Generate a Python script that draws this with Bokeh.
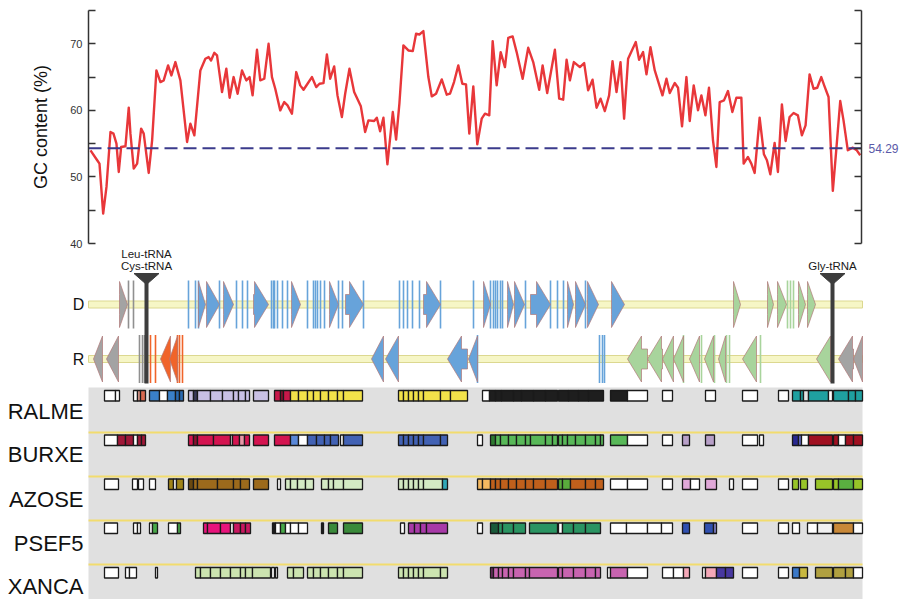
from bokeh.plotting import figure
from bokeh.layouts import column
from bokeh.models import Range1d, LinearAxis, FixedTicker, ColumnDataSource
from bokeh.embed import file_html
from bokeh.resources import INLINE
from bokeh.core.properties import value

# ---------------- data ----------------
genome_len = 774          # genomic positions (arbitrary units, 0 .. 774)
gc_mean = 54.29

gc_pos = [2, 8.7, 11, 14.7, 18, 22, 25, 28, 30.3, 32.7, 37, 40.3, 42, 45.3, 48.7, 52.7, 55.3, 60.3, 63.7, 68,
          72, 75.3, 79.7, 83, 87, 92, 98.7, 102, 106, 112, 117, 120.3, 122.7, 126, 128.7, 133.7, 138, 141.3, 145.3,
          149.3, 153.7, 158, 161.3, 164.3, 168.7, 172, 176, 180.3, 183.7, 187, 192, 196, 199.3, 203.7, 208, 212,
          215.3, 219.3, 223.7, 228, 231.3, 235.3, 238.7, 242, 246, 249.3, 253.7, 257, 261.3, 266, 272.7, 277,
          280.3, 286, 288.7, 292, 295.3, 299.3, 304.7, 308, 311.3, 315.3, 320.3, 324.7, 328, 331.3, 335.3, 340.3,
          343.7, 348, 353.7, 358.7, 362, 366, 370.3, 374.3, 378, 381.3, 385.3, 389.3, 393.7, 397, 401.3, 404.7,
          408.7, 412.7, 417, 420.3, 424.7, 428.7, 434.7, 440.3, 445.3, 451.3, 454.7, 459.3, 467, 471.3, 475.3,
          478.7, 482, 486, 492, 496.3, 500.3, 504.7, 508.7, 512.7, 517, 521.3, 524.7, 528.7, 532.7, 536.3, 540.3,
          548, 551.3, 555.3, 558.7, 562.7, 567, 574.7, 578.7, 582, 587, 590.3, 594.3, 598.7, 602, 606, 610.3,
          613.7, 617.7, 621.3, 625.3, 628.7, 632, 636.3, 640.3, 644.7, 648.7, 653.7, 656, 660.3, 663.7, 667, 672,
          676.3, 679.3, 682.7, 687, 690.3, 694.3, 698, 702, 706, 710.3, 714.3, 718, 722, 726, 729.7, 733.7, 737,
          741, 745.3, 748.7, 752.7, 756, 760.3, 765.3, 769.3, 772.7]
gc_val = [54, 52.5, 52, 44.5, 48.5, 56.75, 56.5, 55, 50.75, 54.5, 54.6, 60.4, 56.5, 51.25, 52, 57.25, 56.5, 50.6,
          55.5, 66, 64.25, 64.5, 66.75, 65.25, 67.25, 64.5, 55.25, 58, 56.25, 66, 67.75, 68, 67.5, 68.65, 68.25,
          62.75, 66.25, 61.9, 65, 62.5, 66, 64.5, 65, 62.25, 69.1, 64.5, 64.75, 70, 65, 63.25, 60, 61.25, 60.75,
          59.5, 65.75, 63.75, 63.1, 64, 65, 63.5, 64, 64.1, 68.4, 64.75, 66.6, 62.25, 59, 62.5, 66.25, 62.75,
          60.6, 56.75, 58.5, 58.4, 58.9, 56.85, 58.9, 51.9, 59.75, 55.6, 61, 69.75, 69, 68.9, 71.5, 71.4, 71.9,
          65, 62.1, 62.5, 64.65, 62.35, 62.5, 64.25, 66.75, 64, 63.9, 56.5, 63.6, 54.9, 58.75, 59.5, 59.25, 70.4,
          63.75, 68.75, 66.5, 70.9, 71.1, 68.75, 64.75, 69.4, 67.25, 63.1, 66.75, 62.6, 69.1, 61.75, 61.6, 67.6,
          64.5, 67.25, 66.5, 67.1, 63, 64.6, 60.4, 61.75, 59.9, 62.25, 67.4, 62.75, 67.25, 58.75, 67.75, 70.25,
          67.6, 68.75, 65.4, 69.5, 66, 62.25, 64.75, 62.6, 64.1, 63.4, 57.6, 65, 58.4, 63.75, 60, 62.25, 59.25,
          63.4, 55.5, 51.5, 61.25, 61.5, 62.9, 59.75, 61.9, 61.9, 52, 53, 52, 50.6, 58.9, 53.4, 52.5, 50.4, 55.1,
          50.75, 60.9, 55.4, 59, 59.6, 59.25, 56.25, 57.75, 65.4, 63.25, 63.4, 65, 63.6, 62, 47.9, 54, 61.4, 58.5,
          54, 54.4, 54, 53.25]
gc_ticks = [40, 50, 60, 70]
gc_minor_ticks = [45, 55, 65, 75]
gc_side_ticks = [40, 45, 50, 55, 60, 65, 70, 75]

# genes on the direct (D) strand: (start, end)
d_arrows_gray = [(31, 39)]
d_arrows_blue = [(110, 117), (118, 131), (135, 145), (165, 180), (203, 212), (241, 250), (257, 275), (335, 352),
                 (395, 402), (419, 425), (426, 436), (442, 462), (479, 485), (487, 497), (499, 510), (523, 536)]
d_arrows_green = [(645, 652), (679, 685), (689, 698), (710, 717), (719, 727)]
d_lines_gray = [40, 45]
d_lines_blue = [100, 107, 110, 131, 148, 154, 159, 183, 185, 186, 189, 194, 199, 219, 225, 227, 229, 232, 236,
                250, 254, 275, 311, 315, 319, 324, 331, 352, 385, 402, 405, 407, 409, 412, 414, 437, 462, 469,
                475, 497]
d_lines_green = [699, 702, 705]

# genes on the reverse (R) strand: (start, end)
r_arrows_gray = [(5, 14), (18, 30), (750, 765), (765, 774)]
r_arrows_orange = [(72, 82), (81, 89)]
r_arrows_blue = [(283, 295), (297, 310), (359, 379), (380, 389)]
r_arrows_green = [(539, 559), (559, 574), (574, 585), (585, 595), (601, 611), (616, 625), (630, 637),
                  (654, 668), (728, 742)]
r_lines_gray = [51, 54, 56]
r_lines_orange = [62, 67, 89, 91, 94]
r_lines_blue = [389, 511, 514, 516]
r_lines_green = [595, 613, 626, 638, 641, 672]

trna_pos = [58, 744]
trna_label_pos = [58, 58, 744]
trna_label_text = ["Leu-tRNA", "Cys-tRNA", "Gly-tRNA"]
trna_label_line = [0, 1, 1]

strand_names = ["D", "R"]

# ortholog blocks per genome: (start, end, group)
ralme = [(16, 27, "W"), (27, 31, "W"), (45, 49, "W"), (49, 52, "SA"), (52, 57, "RD"),
         (61, 71, "B"), (71, 79, "W"), (79, 87, "B"), (87, 91, "B2"), (91, 95, "B2"),
         (100, 105, "LV"), (105, 109, "DK"), (109, 122, "LV"), (122, 134, "LV"), (134, 145, "LV"), (145, 150, "LV"),
         (150, 157, "LV"), (157, 161, "LV"), (165, 180, "LV"),
         (186, 192, "C"), (192, 195, "C2"), (195, 202, "C"), (202, 210, "Y"), (210, 219, "Y"), (219, 225, "Y"),
         (225, 232, "Y"), (232, 240, "Y"), (240, 249, "Y"), (249, 255, "Y"), (255, 274, "Y"),
         (310, 315, "Y"), (315, 320, "Y"), (320, 325, "Y"), (325, 330, "Y"), (330, 335, "Y"), (335, 352, "Y"),
         (352, 362, "Y"), (362, 379, "Y"),
         (394, 401, "W"), (401, 407, "K"), (407, 413, "K"), (413, 425, "K"), (425, 433, "K"), (433, 445, "K"),
         (445, 457, "K"), (457, 469, "K"), (470, 480, "K"), (480, 490, "K"), (490, 500, "K"), (500, 515, "K"),
         (522, 539, "K"), (539, 559, "W"), (574, 584, "W"), (617, 627, "W"), (654, 669, "W"), (690, 700, "W"),
         (704, 712, "T"), (712, 715, "T"), (715, 720, "LT"), (720, 740, "T"), (740, 744, "W"),
         (745, 760, "T"), (760, 767, "T"), (767, 774, "T")]
burxe = [(16, 29, "W"), (29, 37, "DR"), (37, 45, "DR"), (45, 49, "W"), (49, 53, "DR"), (53, 57, "DR"),
         (100, 105, "MC"), (105, 109, "C2"), (109, 125, "MC"), (125, 142, "MC"), (142, 144, "W"), (144, 151, "MC"),
         (151, 156, "PK1"), (156, 161, "MC"), (165, 180, "MC"),
         (186, 202, "MC"), (202, 210, "BL2"), (210, 219, "W"), (219, 228, "BL"), (228, 236, "BL"), (236, 242, "BL"),
         (242, 250, "BL"), (252, 255, "W"), (255, 274, "BL"),
         (310, 315, "BL"), (315, 320, "BL"), (320, 325, "BL"), (325, 330, "BL"), (330, 335, "BL"), (335, 352, "BL"),
         (352, 359, "BL"), (389, 394, "W"),
         (402, 407, "DG"), (407, 412, "G"), (412, 420, "G"), (420, 428, "G"), (428, 437, "G"), (437, 442, "G"),
         (442, 457, "G"), (457, 464, "G"), (464, 469, "G"), (470, 474, "G"), (474, 479, "G"), (479, 487, "G"),
         (487, 497, "G"), (497, 507, "G"), (507, 512, "G"), (512, 515, "G"), (522, 539, "G"), (539, 559, "W"),
         (574, 584, "W"), (594, 601, "M"), (617, 626, "M"), (654, 669, "W"), (671, 675, "W"),
         (704, 710, "NV"), (710, 713, "NV3"), (713, 720, "W"), (720, 744, "DR2"),
         (745, 750, "DR2"), (750, 757, "W"), (757, 765, "DR2"), (765, 774, "DR2")]
azose = [(16, 30, "W"), (44, 49, "W"), (50, 55, "W"), (61, 67, "W"), (80, 85, "OL"), (85, 88, "W"), (88, 95, "OL"),
         (100, 105, "BR2"), (105, 109, "BR"), (109, 129, "BR"), (129, 145, "BR"), (145, 152, "BR"), (152, 161, "BR"),
         (165, 180, "BR"), (189, 192, "W"),
         (197, 202, "LG"), (202, 209, "LG"), (209, 217, "LG"), (217, 225, "LG"),
         (233, 240, "LG"), (240, 245, "LG"), (245, 255, "LG"), (255, 274, "LG"),
         (310, 315, "LG"), (315, 320, "LG"), (320, 325, "LG"), (325, 330, "LG"), (330, 335, "LG"), (335, 354, "LG"),
         (354, 359, "TE"), (389, 394, "LO"), (394, 402, "LO"),
         (402, 407, "OR"), (407, 412, "OR"), (412, 420, "OR"), (420, 428, "OR"), (428, 437, "OR"), (437, 445, "OR"),
         (445, 457, "OR"), (457, 469, "OR"), (470, 474, "GR"), (474, 482, "GR"), (482, 497, "OR"), (497, 507, "OR"),
         (507, 515, "OR"), (522, 539, "W"), (539, 559, "W"), (574, 584, "W"), (594, 602, "PK"), (602, 611, "W"),
         (617, 628, "PK"), (641, 645, "W"), (654, 669, "W"), (690, 700, "W"), (704, 710, "LM"), (712, 719, "LM"),
         (727, 744, "LM"), (745, 750, "LM"), (750, 765, "LM2"), (765, 774, "LM")]
psef5 = [(16, 29, "W"), (45, 49, "W"), (49, 52, "W"), (61, 64, "W"), (64, 69, "PG"), (80, 89, "W"), (89, 92, "PG"),
         (115, 119, "MG"), (119, 132, "MG"), (132, 142, "MG"), (142, 145, "W"), (145, 152, "MG2"), (152, 157, "MG2"),
         (157, 162, "MG2"),
         (184, 187, "K"), (187, 192, "W"), (192, 197, "PG"), (197, 202, "W"), (202, 210, "W"), (210, 219, "W"),
         (233, 235, "K"), (240, 249, "DG2"), (255, 274, "DG2"), (312, 316, "W"),
         (320, 326, "PU"), (326, 332, "PU"), (332, 338, "PU"), (338, 359, "PU"), (389, 394, "W"),
         (402, 410, "GTD"), (410, 414, "GT"), (414, 425, "GT"), (425, 437, "GT"), (441, 469, "GT"), (470, 474, "W"),
         (474, 485, "GT"), (485, 497, "GT"), (497, 512, "GT"),
         (522, 538, "W"), (538, 559, "W"), (559, 573, "W"), (573, 584, "W"), (594, 601, "BU"), (616, 625, "BU"),
         (625, 628, "BU2"), (654, 669, "W"), (690, 700, "W"), (704, 711, "W"), (719, 729, "W"), (729, 744, "LW"),
         (745, 765, "OC"), (765, 774, "W")]
xanca = [(16, 30, "W"), (37, 41, "W"), (41, 48, "W"), (67, 69, "W"),
         (107, 112, "LG2"), (112, 122, "LG2"), (122, 132, "LG2"), (132, 142, "LG2"), (142, 152, "LG2"),
         (152, 157, "LG2"), (157, 164, "LG2"), (164, 182, "LG2"), (183, 186, "W"), (187, 189, "W"),
         (199, 205, "LG2"), (205, 215, "LG2"),
         (219, 225, "LG2"), (225, 232, "LG2"), (232, 240, "LG2"), (240, 249, "LG2"), (249, 255, "LG2"),
         (255, 274, "LG2"),
         (310, 315, "LG2"), (315, 320, "LG2"), (320, 325, "LG2"), (325, 330, "LG2"), (330, 335, "LG2"),
         (335, 352, "LG2"), (352, 359, "LG2"),
         (402, 405, "VD"), (405, 410, "PV"), (410, 414, "PV"), (414, 420, "PV"), (420, 425, "PV"), (425, 437, "PV"),
         (437, 441, "PV"), (441, 469, "PV"), (470, 474, "PV"), (474, 485, "PV"), (485, 497, "PV"), (497, 507, "PV"),
         (507, 512, "PV"), (519, 522, "W"), (522, 539, "PV"), (539, 559, "W"),
         (574, 585, "W"), (585, 595, "W"), (595, 601, "PL"), (614, 617, "W"), (617, 628, "PL"), (628, 637, "NV2"),
         (637, 645, "NV2"), (654, 669, "W"), (690, 700, "W"), (704, 711, "SB"), (711, 719, "YO"),
         (727, 744, "OL2"), (745, 757, "OL2"), (757, 765, "OL2"), (765, 774, "W")]
genome_names = ["RALME", "BURXE", "AZOSE", "PSEF5", "XANCA"]
genome_blocks = [ralme, burxe, azose, psef5, xanca]

# ---------------- styles ----------------
group_colors = {
    "W": "#ffffff", "Y": "#f2e24a", "C": "#c8184a", "C2": "#8a1030", "SA": "#e8a090", "RD": "#d86a50",
    "B": "#3a80c8", "B2": "#2a6ab0", "LV": "#c8c0e4", "DK": "#3a3a5a", "K": "#1e1e1e", "T": "#1fa0a0",
    "LT": "#e4e4e4", "DR": "#a01838", "MC": "#d41450", "PK1": "#e898a8", "BL": "#4262b4", "BL2": "#5a88d8",
    "G": "#58b858", "DG": "#2e7a30", "M": "#b8a0c8", "NV": "#282890", "NV3": "#6a70d0", "DR2": "#a01020",
    "OL": "#a08418", "BR": "#9c6a1c", "BR2": "#6a4810", "LG": "#d4eac4", "TE": "#30a8b8", "LO": "#f4b860",
    "OR": "#c0601c", "GR": "#5aac3c", "PK": "#e0a8d8", "LM": "#98c428", "LM2": "#5ab040", "PG": "#48a848",
    "MG": "#e8147c", "MG2": "#c81860", "DG2": "#3a8a3a", "PU": "#a83aa8", "GT": "#2a9462", "GTD": "#1a5a3a",
    "BU": "#3050b0", "BU2": "#8080c8", "LW": "#f0f0f0", "OC": "#c88838", "LG2": "#cce4b0", "VD": "#6a3060",
    "PV": "#c864b0", "PL": "#f4a8b8", "NV2": "#4838a0", "SB": "#3a78c8", "YO": "#c8b840", "OL2": "#b0a040",
}
FONT = "Liberation Sans"
GENE_GRAY, GENE_BLUE, GENE_GREEN, GENE_ORANGE = "#a3a3a3", "#67a3da", "#a8d49c", "#f0642a"

W = 901
TOP_H, BOT_H = 248, 351
LEFT_PAD, RIGHT_PAD = 88, W - 88 - genome_len

# ---------------- top: GC content ----------------
top = figure(width=W, height=TOP_H, output_backend="svg", toolbar_location=None,
             x_range=Range1d(0, genome_len), y_range=Range1d(40, 75),
             x_axis_location=None, y_axis_location=None, frame_align=False,
             min_border_left=LEFT_PAD, min_border_right=RIGHT_PAD, min_border_top=10,
             min_border_bottom=TOP_H - 243)
top.outline_line_color = None
top.xgrid.visible = False
top.ygrid.visible = False


def style_axis(ax):
    ax.axis_line_color = "#333333"
    ax.axis_line_width = 1.5
    ax.major_tick_line_color = "#333333"
    ax.major_tick_line_width = 1.5
    ax.minor_tick_line_color = "#333333"
    ax.minor_tick_line_width = 1.5
    ax.major_tick_in = 7
    ax.major_tick_out = 0
    ax.minor_tick_in = 7
    ax.minor_tick_out = 0
    ax.major_label_text_font = FONT


left_ax = LinearAxis(ticker=FixedTicker(ticks=gc_ticks, minor_ticks=gc_minor_ticks),
                     axis_label="GC content (%)")
style_axis(left_ax)
left_ax.major_label_standoff = 6
left_ax.major_label_text_font_size = "11px"
left_ax.major_label_text_color = "#333333"
left_ax.axis_label_text_font = FONT
left_ax.axis_label_text_font_style = "normal"
left_ax.axis_label_text_font_size = "18px"
left_ax.axis_label_text_color = "#111111"
left_ax.axis_label_standoff = 16
top.add_layout(left_ax, "left")

right_ax = LinearAxis(ticker=FixedTicker(ticks=[gc_mean], minor_ticks=gc_side_ticks))
style_axis(right_ax)
right_ax.major_label_standoff = 7
right_ax.major_label_text_font_size = "12px"
right_ax.major_label_text_color = "#5a5aa8"
top.add_layout(right_ax, "right")

top.line(gc_pos, gc_val, line_color="#e8373a", line_width=2.4, line_join="round")
top.line([0, genome_len], [gc_mean, gc_mean], line_color="#3b3b8c", line_width=2, line_dash="13 6")

# ---------------- bottom: gene map + ortholog blocks ----------------
Y0 = TOP_H                     # page row where the lower panel starts
bot = figure(width=W, height=BOT_H, output_backend="svg", toolbar_location=None,
             x_range=Range1d(-LEFT_PAD, genome_len + RIGHT_PAD), y_range=Range1d(Y0 + BOT_H, Y0),
             x_axis_location=None, y_axis_location=None, frame_align=False,
             min_border_left=0, min_border_right=0, min_border_top=0, min_border_bottom=0)
bot.outline_line_color = None
bot.xgrid.visible = False
bot.ygrid.visible = False

D_Y, R_Y = 304, 358.5
BAR_HALF = 3.5
ARROW_HALF, BODY_HALF, HEAD_LEN = 23, 10, 14
LINE_HALF = 24
TRNA_TOP, TRNA_TIP, TRNA_BOTTOM, TRNA_HALF_W = 273, 284, 383, 12.5
SYN_TOP = 387
ROW_TOPS = [390, 434.5, 478.5, 522.5, 567]
BOX_H = 10.5
SEP_Y = [432, 476, 520, 564]
LABEL_Y = [411, 454, 499, 543, 586]

for yc in (D_Y, R_Y):
    bot.quad(left=[0], right=[genome_len], top=[yc - BAR_HALF], bottom=[yc + BAR_HALF],
             fill_color="#f6f6c6", line_color="#dcd890", line_width=1)


def arrow_shape(start, end, yc, forward):
    h = min(HEAD_LEN, end - start)
    if forward:
        neck = end - h
        xs = [start, neck, neck, end, neck, neck, start]
    else:
        neck = start + h
        xs = [end, neck, neck, start, neck, neck, end]
    ys = [yc - BODY_HALF, yc - BODY_HALF, yc - ARROW_HALF, yc, yc + ARROW_HALF, yc + BODY_HALF, yc + BODY_HALF]
    return xs, ys


def draw_lines(positions, yc, color):
    n = len(positions)
    bot.segment(x0=positions, y0=[yc - LINE_HALF] * n, x1=positions, y1=[yc + LINE_HALF] * n,
                line_color=color, line_width=1.6)


def draw_arrows(spans, yc, forward, color):
    xs, ys = [], []
    for s, e in spans:
        a, b = arrow_shape(s, e, yc, forward)
        xs.append(a)
        ys.append(b)
    bot.patches(xs, ys, fill_color=color, line_color="#b07878", line_width=0.7)


draw_lines(d_lines_gray, D_Y, "#909090")
draw_lines(d_lines_blue, D_Y, GENE_BLUE)
draw_lines(d_lines_green, D_Y, GENE_GREEN)
draw_arrows(d_arrows_gray, D_Y, True, GENE_GRAY)
draw_arrows(d_arrows_blue, D_Y, True, GENE_BLUE)
draw_arrows(d_arrows_green, D_Y, True, GENE_GREEN)

draw_lines(r_lines_gray, R_Y, "#909090")
draw_lines(r_lines_orange, R_Y, GENE_ORANGE)
draw_lines(r_lines_blue, R_Y, GENE_BLUE)
draw_lines(r_lines_green, R_Y, GENE_GREEN)
draw_arrows(r_arrows_gray, R_Y, False, GENE_GRAY)
draw_arrows(r_arrows_orange, R_Y, False, GENE_ORANGE)
draw_arrows(r_arrows_blue, R_Y, False, GENE_BLUE)
draw_arrows(r_arrows_green, R_Y, False, GENE_GREEN)

nt = len(trna_pos)
bot.segment(x0=trna_pos, y0=[TRNA_TOP] * nt, x1=trna_pos, y1=[TRNA_BOTTOM] * nt,
            line_color="#3d3d3d", line_width=4)
bot.patches([[x - TRNA_HALF_W, x + TRNA_HALF_W, x] for x in trna_pos],
            [[TRNA_TOP, TRNA_TOP, TRNA_TIP] for _ in trna_pos],
            fill_color="#3d3d3d", line_color="#3d3d3d", line_width=1)
bot.text(x=trna_label_pos, y=[253 + 12 * k for k in trna_label_line], text=trna_label_text,
         text_align="center", text_baseline="middle", text_font=value(FONT),
         text_font_size="11.5px", text_color="#1a1a1a")

bot.text(x=[-10, -10], y=[D_Y, R_Y], text=strand_names, text_align="center", text_baseline="middle",
         text_font=value(FONT), text_font_size="16px", text_color="#111111")

# ortholog blocks
bot.quad(left=[0], right=[genome_len], top=[SYN_TOP], bottom=[Y0 + BOT_H + 5],
         fill_color="#e0e0e0", line_color=None)
ns = len(SEP_Y)
bot.segment(x0=[0] * ns, y0=SEP_Y, x1=[genome_len] * ns, y1=SEP_Y, line_color="#f2dc6e", line_width=2)

for blocks, rt in zip(genome_blocks, ROW_TOPS):
    src = ColumnDataSource(dict(
        left=[b[0] for b in blocks], right=[b[1] for b in blocks],
        top=[rt] * len(blocks), bottom=[rt + BOX_H] * len(blocks),
        color=[group_colors[b[2]] for b in blocks]))
    bot.quad(left="left", right="right", top="top", bottom="bottom", source=src,
             fill_color="color", line_color="#1a1a1a", line_width=1.3)

bot.text(x=[-5] * len(genome_names), y=LABEL_Y, text=genome_names, text_align="right",
         text_baseline="middle", text_font=value(FONT), text_font_size="22px", text_color="#111111")

layout = column(top, bot, spacing=0)
open("out.html", "w").write(file_html(layout, INLINE))
